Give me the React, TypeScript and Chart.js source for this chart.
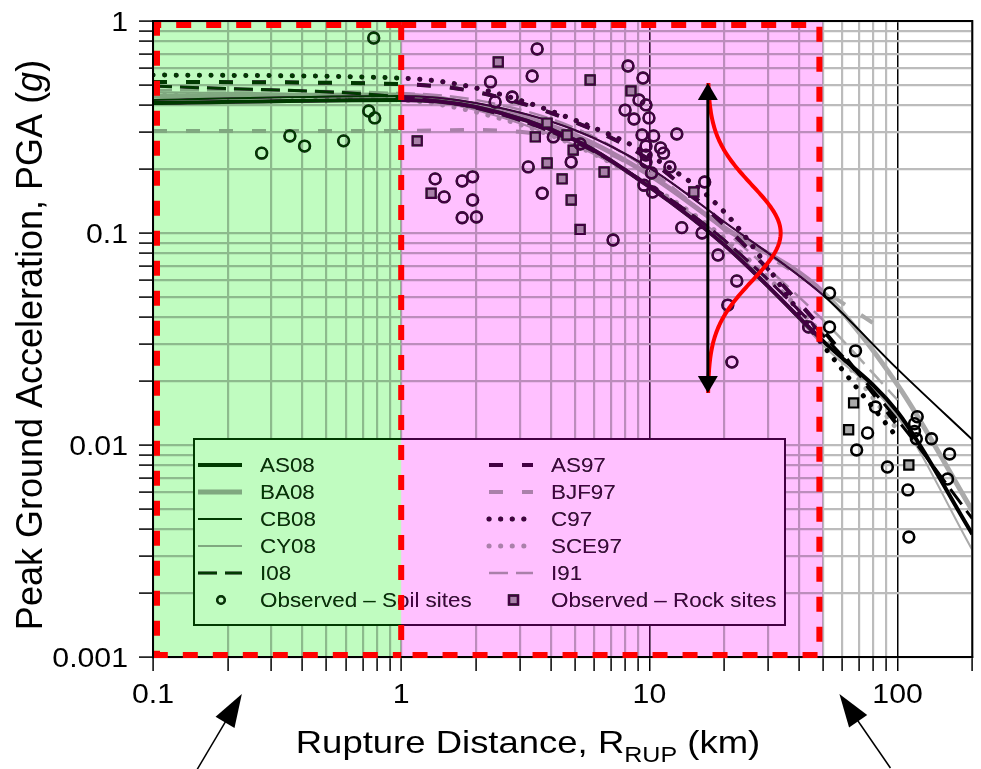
import React, { useEffect, useRef } from "react";
import { Chart, registerables } from "chart.js";
Chart.register(...registerables);

// ---------- axis ranges & tick labels ----------
const X_MIN = 0.1;
const X_MAX = 200;
const Y_MIN = 0.001;
const Y_MAX = 1;
const X_DECADES = [0.1, 1, 10, 100];
const Y_DECADES = [0.001, 0.01, 0.1, 1];
const X_TICK_VALUES = [0.1, 1, 10, 100];
const X_TICK_LABELS = ["0.1", "1", "10", "100"];
const Y_TICK_VALUES = [0.001, 0.01, 0.1, 1];
const Y_TICK_LABELS = ["0.001", "0.01", "0.1", "1"];
const DARK_GRID_X = [10, 100];
const REGION_BOUNDS = [0.1, 1, 50];

// ---------- model curves ----------
const DIST_NGA = [0.1, 1, 2, 5, 10, 20, 50, 100, 200];
const AS08 = [0.41, 0.424, 0.393, 0.275, 0.165, 0.088, 0.031, 0.0143, 0.0038];
const BA08 = [0.443, 0.448, 0.402, 0.29, 0.188, 0.106, 0.0527, 0.0192, 0.0049];
const CB08 = [0.424, 0.443, 0.41, 0.306, 0.203, 0.113, 0.051, 0.0228, 0.0106];
const CY08 = [0.463, 0.433, 0.38, 0.26, 0.168, 0.0927, 0.0296, 0.0136, 0.0032];
const I08 = [0.494, 0.438, 0.389, 0.269, 0.168, 0.0927, 0.033, 0.0131, 0.0045];

const DIST_OLD = [0.1, 1, 2, 5, 10, 20, 50, 100];
const AS97 = [0.516, 0.504, 0.463, 0.334, 0.221, 0.109, 0.0349, 0.0124];
const C97 = [0.556, 0.538, 0.483, 0.341, 0.233, 0.126, 0.0296, 0.0108];
const SCE97 = [0.448, 0.424, 0.372, 0.26, 0.168, 0.0947, 0.033, 0.0118];
const I91 = [0.473, 0.457, 0.424, 0.313, 0.198, 0.103, 0.0389, 0.0163];

const DIST_BJF = [0.1, 1, 2, 3, 5, 10, 20, 50, 80];
const BJF97 = [0.303, 0.303, 0.306, 0.3, 0.275, 0.188, 0.106, 0.0538, 0.0375];

// ---------- observations ----------
const SOIL_R = [
  0.775, 0.74, 0.782, 0.356, 0.408, 0.586, 0.274,
  3.53, 3.37, 2.29, 2.39, 2.8, 8.2, 9.42, 9.08, 9.69, 7.98, 9.96, 8.67, 9.34, 10.4, 12.9,
  4.1, 5.26, 9.69, 11.1, 11.4, 9.69, 9.69, 12.1, 4.84, 3.25, 10.2, 9.51, 10.3, 3.7,
  1.37, 1.76, 1.94, 1.49, 1.94, 1.76, 2.01, 7.14, 13.5, 16.3, 18.9, 22.5, 20.7, 21.5,
  43.8, 16.7,
  53.2, 53.2, 67.7, 81.5, 75.7, 68.4, 91.0, 110, 111, 120, 117, 117, 119, 137, 162, 159,
];
const SOIL_PGA = [
  0.831, 0.376, 0.349, 0.287, 0.257, 0.272, 0.238,
  0.738, 0.55, 0.516, 0.415, 0.438, 0.613, 0.538, 0.424, 0.402, 0.38, 0.349, 0.345, 0.29, 0.287, 0.293,
  0.284, 0.263, 0.257, 0.252, 0.238, 0.233, 0.216, 0.205, 0.216, 0.205, 0.192, 0.168, 0.156, 0.154,
  0.18, 0.176, 0.184, 0.148, 0.143, 0.118, 0.119, 0.0927, 0.106, 0.1, 0.0787, 0.0594, 0.0457, 0.0246,
  0.036, 0.174,
  0.0521, 0.036, 0.0278, 0.0151, 0.0114, 0.00947, 0.00787, 0.00614, 0.00368, 0.0136, 0.0126, 0.0116,
  0.0107, 0.0107, 0.00907, 0.00691,
];
const ROCK_R = [1.16, 1.32, 2.46, 5.77, 8.43, 3.87, 3.47, 4.66, 4.93, 3.87, 4.45, 6.57, 4.84, 5.26, 15.1, 66.5, 63.5, 111];
const ROCK_PGA = [0.272, 0.154, 0.641, 0.527, 0.468, 0.33, 0.284, 0.29, 0.246, 0.214, 0.18, 0.194, 0.143, 0.104, 0.156, 0.0158, 0.0118, 0.00805];

// ---------- annotations (data units) ----------
const SIGMA_X = 17.2;
const SIGMA_TOP = 0.51;
const SIGMA_BOTTOM = 0.0176;
const SIGMA_MEDIAN = 0.1;
const SIGMA_LOG10 = 0.226;
const SIGMA_PEAK_X = 33.8;
const POINTER_X = [0.228, 58.3];

// ---------- styles ----------
const BLACK = "#000000";
const GRAY = "#aaaaaa";
const GRID = "#bcbcbc";
const FONT = "'Liberation Sans', Arial, Helvetica, sans-serif";

type St = { color: string; width: number; dash: number[]; cap: CanvasLineCap };
const STYLES: Record<string, St> = {
  AS08: { color: BLACK, width: 4, dash: [], cap: "butt" },
  BA08: { color: GRAY, width: 5, dash: [], cap: "butt" },
  CB08: { color: BLACK, width: 2, dash: [], cap: "butt" },
  CY08: { color: GRAY, width: 2, dash: [], cap: "butt" },
  I08: { color: BLACK, width: 3, dash: [19, 8], cap: "butt" },
  AS97: { color: BLACK, width: 4, dash: [14, 19], cap: "butt" },
  BJF97: { color: GRAY, width: 4, dash: [14, 19], cap: "butt" },
  C97: { color: BLACK, width: 5, dash: [0.1, 11.5], cap: "round" },
  SCE97: { color: GRAY, width: 5, dash: [0.1, 11.5], cap: "round" },
  I91: { color: GRAY, width: 2.5, dash: [19, 8], cap: "butt" },
};

const LEFT_LEGEND = ["AS08", "BA08", "CB08", "CY08", "I08"];
const RIGHT_LEGEND = ["AS97", "BJF97", "C97", "SCE97", "I91"];

function pts(xs: number[], ys: number[]) {
  return xs.map((x, i) => ({ x, y: ys[i] }));
}

function lineDs(label: string, xs: number[], ys: number[]) {
  const s = STYLES[label];
  return {
    type: "line" as const,
    label,
    data: pts(xs, ys),
    borderColor: s.color,
    borderWidth: s.width,
    borderDash: s.dash,
    borderCapStyle: s.cap,
    pointRadius: 0,
    fill: false,
    showLine: true,
    cubicInterpolationMode: "monotone" as const,
  };
}

function makeTicks(decades: number[], max: number) {
  const out: { value: number }[] = [];
  for (const d of decades) {
    for (let m = 1; m <= 9; m++) {
      const v = Number((m * d).toPrecision(3));
      if (v <= max * (1 + 1e-9)) out.push({ value: v });
    }
  }
  return out;
}

function txt(ctx: CanvasRenderingContext2D, s: string, x: number, y: number, size: number, sx: number, align: CanvasTextAlign = "left", style = "") {
  ctx.save();
  ctx.translate(x, y);
  ctx.scale(sx, 1);
  ctx.font = `${style} ${size}px ${FONT}`;
  ctx.textAlign = align;
  ctx.textBaseline = "alphabetic";
  ctx.fillStyle = BLACK;
  ctx.fillText(s, 0, 0);
  ctx.restore();
}
function tw(ctx: CanvasRenderingContext2D, s: string, size: number, sx: number, style = "") {
  ctx.save();
  ctx.font = `${style} ${size}px ${FONT}`;
  const w = ctx.measureText(s).width * sx;
  ctx.restore();
  return w;
}

function arrowHead(ctx: CanvasRenderingContext2D, tx: number, ty: number, fx: number, fy: number, len: number, half: number) {
  const dx = tx - fx, dy = ty - fy;
  const d = Math.hypot(dx, dy);
  const ux = dx / d, uy = dy / d;
  const bx = tx - ux * len, by = ty - uy * len;
  ctx.beginPath();
  ctx.moveTo(tx, ty);
  ctx.lineTo(bx - uy * half, by + ux * half);
  ctx.lineTo(bx + uy * half, by - ux * half);
  ctx.closePath();
  ctx.fill();
}

function sample(ctx: CanvasRenderingContext2D, s: St, x0: number, x1: number, y: number) {
  ctx.save();
  ctx.strokeStyle = s.color;
  ctx.lineWidth = s.width;
  ctx.setLineDash(s.dash);
  ctx.lineCap = s.cap;
  ctx.beginPath();
  ctx.moveTo(x0, y);
  ctx.lineTo(x1, y);
  ctx.stroke();
  ctx.restore();
}

const decorPlugin = {
  id: "decor",
  beforeDraw(chart: any) {
    const ctx = chart.ctx as CanvasRenderingContext2D;
    ctx.save();
    ctx.fillStyle = "#ffffff";
    ctx.fillRect(0, 0, chart.width, chart.height);
    ctx.restore();
  },
  afterDraw(chart: any) {
    const ctx = chart.ctx as CanvasRenderingContext2D;
    const ca = chart.chartArea;
    const xs = chart.scales.x;
    const ys = chart.scales.y;

    // ---- legend (drawn before tint) ----
    const LX0 = 194, LY0 = 439, LX1 = 785, LY1 = 625;
    ctx.save();
    ctx.fillStyle = "#ffffff";
    ctx.fillRect(LX0, LY0, LX1 - LX0, LY1 - LY0);
    ctx.lineWidth = 2;
    ctx.strokeStyle = BLACK;
    ctx.strokeRect(LX0, LY0, LX1 - LX0, LY1 - LY0);
    ctx.restore();
    const rowY = (i: number) => 465 + i * 27;
    LEFT_LEGEND.forEach((k, i) => {
      sample(ctx, STYLES[k], 198, 242, rowY(i));
      txt(ctx, k, 260, rowY(i) + 7, 20, 1.12);
    });
    RIGHT_LEGEND.forEach((k, i) => {
      sample(ctx, STYLES[k], 489, 533, rowY(i));
      txt(ctx, k, 551, rowY(i) + 7, 20, 1.12);
    });
    ctx.save();
    ctx.lineWidth = 2.5;
    ctx.strokeStyle = BLACK;
    ctx.beginPath();
    ctx.arc(221, rowY(5), 3.8, 0, Math.PI * 2);
    ctx.stroke();
    ctx.fillStyle = GRAY;
    ctx.fillRect(509, rowY(5) - 4.5, 9, 9);
    ctx.strokeRect(509, rowY(5) - 4.5, 9, 9);
    ctx.restore();
    txt(ctx, "Observed \u2013 Soil sites", 260, rowY(5) + 7, 20, 1.12);
    txt(ctx, "Observed \u2013 Rock sites", 551, rowY(5) + 7, 20, 1.12);

    // ---- colour tint of the two distance ranges ----
    const rx = REGION_BOUNDS.map((v) => xs.getPixelForValue(v));
    const h = ca.bottom - ca.top;
    ctx.save();
    ctx.globalCompositeOperation = "multiply";
    ctx.fillStyle = "rgb(192,252,192)";
    ctx.fillRect(rx[0], ca.top, rx[1] - rx[0], h);
    ctx.fillStyle = "rgb(255,192,255)";
    ctx.fillRect(rx[1], ca.top, rx[2] - rx[1], h);
    ctx.globalCompositeOperation = "lighten";
    ctx.fillStyle = "rgb(0,58,0)";
    ctx.fillRect(rx[0], ca.top, rx[1] - rx[0], h);
    ctx.fillStyle = "rgb(66,0,66)";
    ctx.fillRect(rx[1], ca.top, rx[2] - rx[1], h);
    ctx.restore();

    // ---- plot box ----
    ctx.save();
    ctx.strokeStyle = BLACK;
    ctx.lineWidth = 2;
    ctx.strokeRect(ca.left, ca.top, ca.right - ca.left, h);
    ctx.restore();

    // ---- red dashed rectangles (shared edge drawn once) ----
    ctx.save();
    ctx.strokeStyle = "#ff0000";
    ctx.lineWidth = 6;
    ctx.setLineDash([15, 15]);
    const t = ca.top + 4, b = ca.bottom - 2;
    const gl = rx[0] + 4, mid = rx[1], pr = rx[2] - 3.5;
    ctx.beginPath();
    ctx.moveTo(mid, t);
    ctx.lineTo(gl, t);
    ctx.lineTo(gl, b);
    ctx.lineTo(mid, b);
    ctx.stroke();
    ctx.beginPath();
    ctx.moveTo(mid, t);
    ctx.lineTo(pr, t);
    ctx.lineTo(pr, b);
    ctx.lineTo(mid, b);
    ctx.stroke();
    ctx.beginPath();
    ctx.moveTo(mid, t);
    ctx.lineTo(mid, b);
    ctx.stroke();
    ctx.restore();

    // ---- sigma arrow and gaussian ----
    const ax = xs.getPixelForValue(SIGMA_X);
    const ayT = ys.getPixelForValue(SIGMA_TOP);
    const ayB = ys.getPixelForValue(SIGMA_BOTTOM);
    const peakPx = xs.getPixelForValue(SIGMA_PEAK_X);
    ctx.save();
    ctx.strokeStyle = "#ff0000";
    ctx.lineWidth = 4;
    ctx.beginPath();
    const lt = Math.log10(SIGMA_TOP), lb = Math.log10(SIGMA_BOTTOM), lm = Math.log10(SIGMA_MEDIAN);
    for (let i = 0; i <= 200; i++) {
      const ly = lt + (lb - lt) * (i / 200);
      const z = (ly - lm) / SIGMA_LOG10;
      const px = ax + (peakPx - ax) * Math.exp(-0.5 * z * z);
      const py = ys.getPixelForValue(Math.pow(10, ly));
      if (i === 0) ctx.moveTo(px, py);
      else ctx.lineTo(px, py);
    }
    ctx.stroke();
    ctx.strokeStyle = BLACK;
    ctx.fillStyle = BLACK;
    ctx.lineWidth = 3;
    ctx.beginPath();
    ctx.moveTo(ax, ayT + 10);
    ctx.lineTo(ax, ayB - 10);
    ctx.stroke();
    arrowHead(ctx, ax, ayT, ax, ayB, 17, 10);
    arrowHead(ctx, ax, ayB, ax, ayT, 17, 10);
    ctx.restore();

    // ---- tick labels ----
    X_TICK_VALUES.forEach((v, i) => {
      txt(ctx, X_TICK_LABELS[i], xs.getPixelForValue(v), ca.bottom + 46, 27, 1.12, "center");
    });
    Y_TICK_VALUES.forEach((v, i) => {
      txt(ctx, Y_TICK_LABELS[i], ca.left - 25, ys.getPixelForValue(v) + 9.7, 27, 1.12, "right");
    });

    // ---- x title with subscript ----
    const p1 = "Rupture Distance, R";
    const p2 = "RUP";
    const p3 = " (km)";
    const w1 = tw(ctx, p1, 32, 1.14), w2 = tw(ctx, p2, 22, 1.14), w3 = tw(ctx, p3, 32, 1.14);
    const cx = 528;
    let x0 = cx - (w1 + w2 + w3) / 2;
    const by = ca.bottom + 96;
    txt(ctx, p1, x0, by, 32, 1.14);
    x0 += w1;
    txt(ctx, p2, x0, by + 9, 22, 1.14);
    x0 += w2;
    txt(ctx, p3, x0, by, 32, 1.14);

    // ---- y title (rotated) with italic g ----
    const q1 = "Peak Ground Acceleration, PGA (";
    const q2 = "g";
    const q3 = ")";
    const v1 = tw(ctx, q1, 36, 1), v2 = tw(ctx, q2, 36, 1, "italic"), v3 = tw(ctx, q3, 36, 1);
    ctx.save();
    ctx.translate(42, (ca.top + ca.bottom) / 2 + 6);
    ctx.rotate(-Math.PI / 2);
    let s0 = -(v1 + v2 + v3) / 2;
    txt(ctx, q1, s0, 0, 36, 1);
    s0 += v1;
    txt(ctx, q2, s0, 0, 36, 1, "left", "italic");
    s0 += v2;
    txt(ctx, q3, s0, 0, 36, 1);
    ctx.restore();

    // ---- pointer arrows under the axis ----
    ctx.save();
    ctx.strokeStyle = BLACK;
    ctx.fillStyle = BLACK;
    ctx.lineWidth = 1.5;
    const tipY = ca.bottom + 37;
    const tails = [[-45, 76], [51, 74]];
    POINTER_X.forEach((v, i) => {
      const tx = xs.getPixelForValue(v);
      const fx = tx + tails[i][0], fy = tipY + tails[i][1];
      ctx.beginPath();
      ctx.moveTo(fx, fy);
      ctx.lineTo(tx + (fx - tx) * 0.3, tipY + (fy - tipY) * 0.3);
      ctx.stroke();
      arrowHead(ctx, tx, tipY, fx, fy, 33, 11);
    });
    ctx.restore();
  },
};

export default function App() {
  const ref = useRef<HTMLCanvasElement>(null);
  useEffect(() => {
    const canvas = ref.current;
    if (!canvas) return;
    Chart.defaults.font.family = FONT;
    const chart = new Chart(canvas, {
      type: "line",
      data: {
        datasets: [
          {
            type: "line",
            label: "Observed \u2013 Soil sites",
            data: pts(SOIL_R, SOIL_PGA),
            showLine: false,
            pointStyle: "circle",
            pointRadius: 5.4,
            pointBorderWidth: 2.6,
            pointBorderColor: BLACK,
            pointBackgroundColor: "rgba(0,0,0,0)",
          },
          {
            type: "line",
            label: "Observed \u2013 Rock sites",
            data: pts(ROCK_R, ROCK_PGA),
            showLine: false,
            pointStyle: "rect",
            pointRadius: 6.5,
            pointBorderWidth: 2.2,
            pointBorderColor: BLACK,
            pointBackgroundColor: GRAY,
          },
          lineDs("AS08", DIST_NGA, AS08),
          lineDs("CB08", DIST_NGA, CB08),
          lineDs("I08", DIST_NGA, I08),
          lineDs("AS97", DIST_OLD, AS97),
          lineDs("C97", DIST_OLD, C97),
          lineDs("CY08", DIST_NGA, CY08),
          lineDs("SCE97", DIST_OLD, SCE97),
          lineDs("I91", DIST_OLD, I91),
          lineDs("BJF97", DIST_BJF, BJF97),
          lineDs("BA08", DIST_NGA, BA08),
        ] as any,
      },
      options: {
        animation: false,
        responsive: false,
        devicePixelRatio: 1,
        events: [],
        layout: { padding: { top: 21, right: 7, left: 0, bottom: 0 } },
        plugins: { legend: { display: false }, tooltip: { enabled: false }, title: { display: false } },
        scales: {
          x: {
            type: "logarithmic",
            min: X_MIN,
            max: X_MAX,
            afterBuildTicks: (s: any) => {
              s.ticks = makeTicks(X_DECADES, X_MAX);
            },
            afterFit: (s: any) => {
              s.height = 112;
            },
            ticks: { display: false },
            grid: {
              color: (c: any) => (c.tick && DARK_GRID_X.includes(c.tick.value) ? BLACK : GRID),
              lineWidth: (c: any) => (c.tick && DARK_GRID_X.includes(c.tick.value) ? 1.5 : 2.2),
              tickColor: BLACK,
              tickLength: 14,
              tickWidth: 1.5,
              drawTicks: true,
            },
            border: { display: true, color: BLACK, width: 2 },
            title: { display: false },
          },
          y: {
            type: "logarithmic",
            min: Y_MIN,
            max: Y_MAX,
            afterBuildTicks: (s: any) => {
              s.ticks = makeTicks(Y_DECADES, Y_MAX);
            },
            afterFit: (s: any) => {
              s.width = 153;
            },
            ticks: { display: false },
            grid: {
              color: GRID,
              lineWidth: 2.2,
              tickColor: BLACK,
              tickLength: 14,
              tickWidth: 1.5,
              drawTicks: true,
            },
            border: { display: true, color: BLACK, width: 2 },
            title: { display: false },
          },
        },
      } as any,
      plugins: [decorPlugin],
    });
    return () => chart.destroy();
  }, []);
  return (
    <div style={{ position: "absolute", left: 0, top: 0, width: 981, height: 769, background: "#fff" }}>
      <canvas ref={ref} width={981} height={769} style={{ display: "block", width: 981, height: 769 }} />
    </div>
  );
}
